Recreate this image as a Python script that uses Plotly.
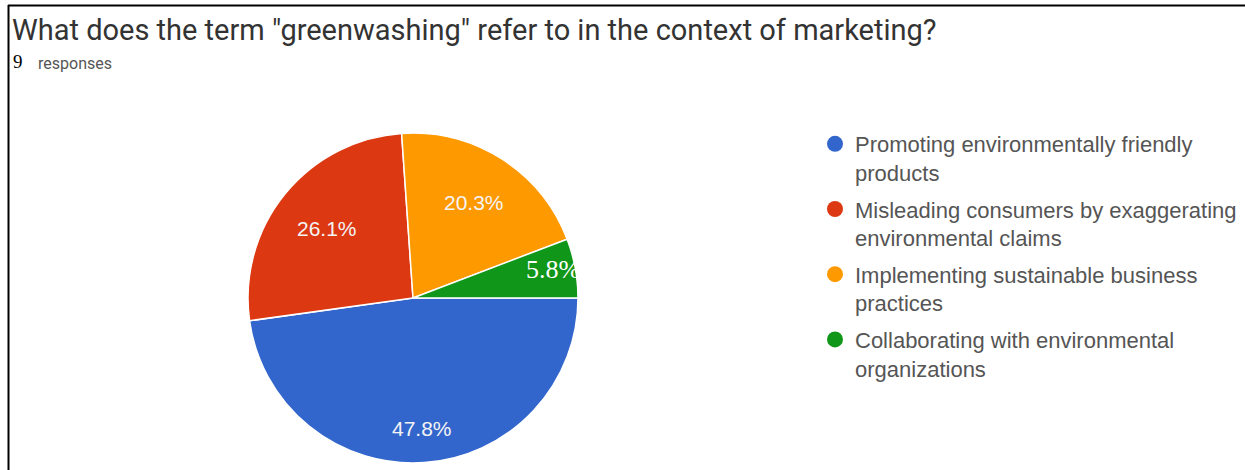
import math
import textwrap
import plotly.graph_objects as go

# Survey question and responses
question = 'What does the term "greenwashing" refer to in the context of marketing?'
response_count = "9"
categories = [
    "Promoting environmentally friendly products",
    "Misleading consumers by exaggerating environmental claims",
    "Implementing sustainable business practices",
    "Collaborating with environmental organizations",
]
shares = [47.8, 26.1, 20.3, 5.8]

# Styling
colors = ["#3366cc", "#dc3912", "#ff9900", "#109618"]
W, H = 1245, 470
CX, CY, R = 413, 298, 165          # pie centre and radius in pixels
label_radius = [0.79, 0.67, 0.69, 0.86]
label_yshift = [0, 0, 0, 3]
START_ANGLE = 90                   # degrees clockwise from 12 o'clock


def px(x):
    return x / W


def py(y):
    return 1 - y / H


fig = go.Figure()

fig.add_trace(go.Pie(
    labels=categories,
    values=shares,
    sort=False,
    direction="clockwise",
    rotation=START_ANGLE,
    marker=dict(colors=colors, line=dict(color="#ffffff", width=1.5)),
    textinfo="none",
    hoverinfo="label+percent",
    showlegend=False,
    domain=dict(x=[px(CX - R), px(CX + R)], y=[py(CY + R), py(CY - R)]),
))

# Legend entries with round markers
for i, (name, color) in enumerate(zip(categories, colors)):
    fig.add_trace(go.Scatter(
        x=[None], y=[None], mode="markers",
        marker=dict(color=color, size=16, symbol="circle"),
        name="<br>".join(textwrap.wrap(name, 36)),
        legendgroup=f"g{i}",
        hoverinfo="skip",
    ))

annotations = []

# Percentage labels placed along each slice's middle angle
total = sum(shares)
angle = START_ANGLE
for i, v in enumerate(shares):
    span = v / total * 360
    mid = math.radians(angle + span / 2)
    d = label_radius[i] * R
    lx = CX + d * math.sin(mid)
    ly = CY - d * math.cos(mid)
    last = i == len(shares) - 1
    annotations.append(dict(
        x=px(lx), y=py(ly), xref="paper", yref="paper",
        text=f"{v:.1f}%", showarrow=False,
        xanchor="center", yanchor="middle", yshift=label_yshift[i],
        font=dict(
            family="Liberation Serif, Times New Roman, serif" if last else "Liberation Sans, Arial, sans-serif",
            size=26 if last else 21,
            color="#ffffff" if last else "#f4f4f4",
        ),
    ))
    angle += span

# Title and response count
annotations.append(dict(
    x=px(10), y=py(30), xref="paper", yref="paper", text=question,
    showarrow=False, xanchor="left", yanchor="middle",
    font=dict(family="Roboto, sans-serif", size=29, color="#333333"),
))
annotations.append(dict(
    x=px(11), y=py(62), xref="paper", yref="paper", text=response_count,
    showarrow=False, xanchor="left", yanchor="middle",
    font=dict(family="Liberation Serif, Times New Roman, serif", size=19, color="#000000"),
))
annotations.append(dict(
    x=px(36), y=py(64), xref="paper", yref="paper", text="responses",
    showarrow=False, xanchor="left", yanchor="middle",
    font=dict(family="Roboto, sans-serif", size=16, color="#555555"),
))

# Frame lines along the top and left edges
shapes = [
    dict(type="line", xref="paper", yref="paper", x0=px(8), x1=1, y0=py(5.5), y1=py(5.5),
         line=dict(color="#000000", width=2)),
    dict(type="line", xref="paper", yref="paper", x0=px(8.5), x1=px(8.5), y0=py(5), y1=0,
         line=dict(color="#000000", width=2)),
]

fig.update_layout(
    width=W, height=H,
    margin=dict(l=0, r=0, t=0, b=0),
    paper_bgcolor="#ffffff", plot_bgcolor="#ffffff",
    xaxis=dict(visible=False), yaxis=dict(visible=False),
    showlegend=True,
    legend=dict(
        x=px(815), y=py(123), xanchor="left", yanchor="top",
        font=dict(family="Liberation Sans, Arial, sans-serif", size=22, color="#555555"),
        tracegroupgap=5, valign="top", bgcolor="rgba(0,0,0,0)",
        itemclick=False, itemdoubleclick=False,
    ),
    annotations=annotations,
    shapes=shapes,
)

fig.write_html("out.html")
